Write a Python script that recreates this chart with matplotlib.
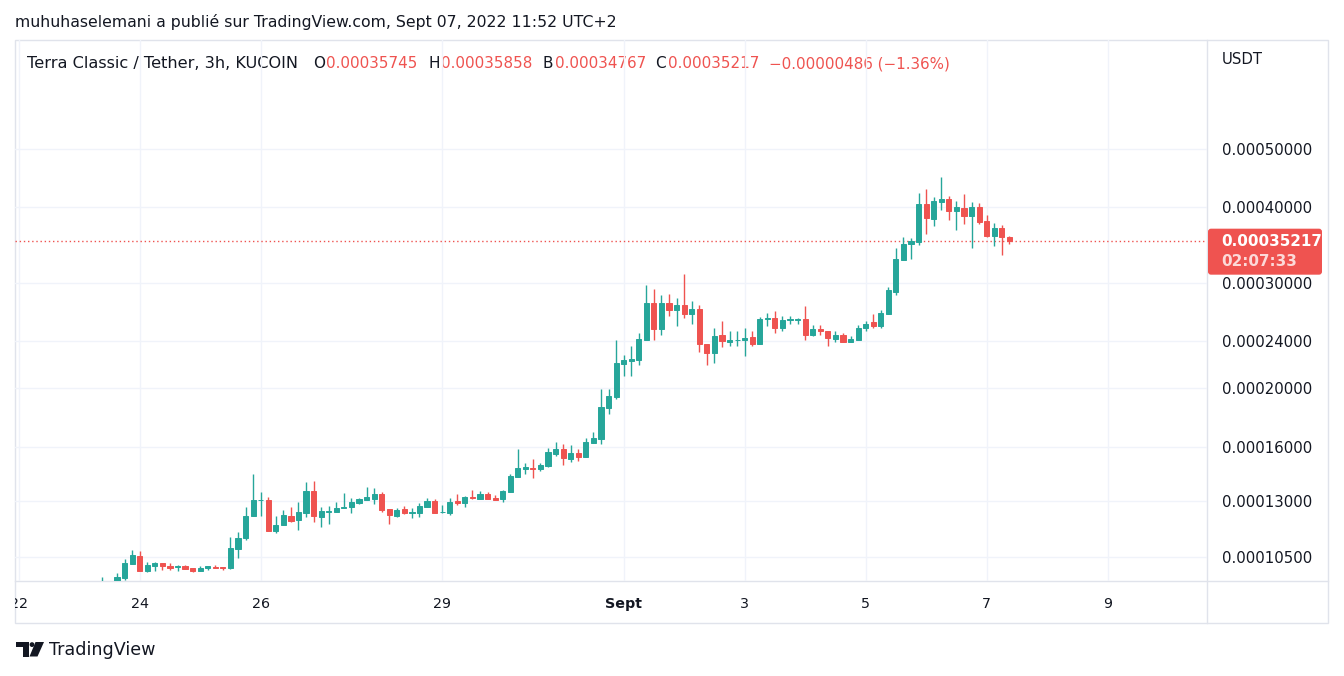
import numpy as np
import pandas as pd
import matplotlib
matplotlib.use("Agg")
import matplotlib.pyplot as plt
import matplotlib.dates as mdates
from matplotlib.patches import Rectangle, Polygon, Circle, FancyBboxPatch
from matplotlib.ticker import NullLocator, FixedLocator
from matplotlib.transforms import Bbox, TransformedBbox

# ---------------- data (LUNC/USDT 3h candles, KuCoin) ----------------
first_candle = "2022-08-23 09:00"   # UTC open time of first candle

opens = [0.925e-4, 0.950e-4, 0.945e-4, 0.967e-4, 1.022e-4, 1.052e-4, 0.995e-4, 1.014e-4, 1.025e-4, 1.014e-4,
         1.008e-4, 1.011e-4, 1.006e-4, 0.995e-4, 1.006e-4, 1.010e-4, 1.010e-4, 1.006e-4, 1.082e-4, 1.128e-4,
         1.228e-4, 1.302e-4, 1.305e-4, 1.159e-4, 1.186e-4, 1.228e-4, 1.209e-4, 1.242e-4, 1.351e-4, 1.223e-4,
         1.247e-4, 1.247e-4, 1.266e-4, 1.271e-4, 1.290e-4, 1.305e-4, 1.310e-4, 1.335e-4, 1.261e-4, 1.228e-4,
         1.261e-4, 1.242e-4, 1.242e-4, 1.271e-4, 1.300e-4, 1.245e-4, 1.242e-4, 1.300e-4, 1.290e-4, 1.320e-4,
         1.310e-4, 1.335e-4, 1.315e-4, 1.310e-4, 1.346e-4, 1.425e-4, 1.470e-4, 1.475e-4, 1.470e-4, 1.487e-4,
         1.557e-4, 1.587e-4, 1.528e-4, 1.563e-4, 1.540e-4, 1.624e-4, 1.649e-4, 1.857e-4, 1.938e-4, 2.199e-4,
         2.224e-4, 2.233e-4, 2.403e-4, 2.769e-4, 2.506e-4, 2.769e-4, 2.696e-4, 2.748e-4, 2.655e-4, 2.706e-4,
         2.375e-4, 2.286e-4, 2.449e-4, 2.385e-4, 2.403e-4, 2.403e-4, 2.431e-4, 2.366e-4, 2.612e-4, 2.614e-4,
         2.525e-4, 2.602e-4, 2.602e-4, 2.604e-4, 2.449e-4, 2.506e-4, 2.496e-4, 2.412e-4, 2.458e-4, 2.385e-4,
         2.403e-4, 2.516e-4, 2.574e-4, 2.535e-4, 2.655e-4, 2.889e-4, 3.265e-4, 3.473e-4, 3.500e-4, 4.049e-4,
         3.822e-4, 4.080e-4, 4.127e-4, 3.942e-4, 3.988e-4, 3.866e-4, 4.003e-4, 3.793e-4, 3.581e-4, 3.692e-4,
         3.5745e-4]
highs = [0.972e-4, 0.955e-4, 0.987e-4, 1.041e-4, 1.077e-4, 1.073e-4, 1.029e-4, 1.029e-4, 1.025e-4, 1.025e-4,
         1.017e-4, 1.017e-4, 1.006e-4, 1.014e-4, 1.014e-4, 1.017e-4, 1.010e-4, 1.132e-4, 1.154e-4, 1.271e-4,
         1.442e-4, 1.346e-4, 1.320e-4, 1.228e-4, 1.256e-4, 1.271e-4, 1.295e-4, 1.398e-4, 1.404e-4, 1.271e-4,
         1.276e-4, 1.295e-4, 1.341e-4, 1.315e-4, 1.315e-4, 1.372e-4, 1.366e-4, 1.346e-4, 1.261e-4, 1.266e-4,
         1.276e-4, 1.266e-4, 1.290e-4, 1.315e-4, 1.310e-4, 1.280e-4, 1.315e-4, 1.335e-4, 1.325e-4, 1.356e-4,
         1.351e-4, 1.346e-4, 1.330e-4, 1.356e-4, 1.442e-4, 1.587e-4, 1.505e-4, 1.528e-4, 1.505e-4, 1.593e-4,
         1.631e-4, 1.618e-4, 1.612e-4, 1.587e-4, 1.656e-4, 1.694e-4, 1.998e-4, 1.998e-4, 2.403e-4, 2.277e-4,
         2.348e-4, 2.468e-4, 2.967e-4, 2.922e-4, 2.856e-4, 2.867e-4, 2.823e-4, 3.095e-4, 2.791e-4, 2.748e-4,
         2.375e-4, 2.516e-4, 2.584e-4, 2.496e-4, 2.487e-4, 2.525e-4, 2.487e-4, 2.624e-4, 2.665e-4, 2.685e-4,
         2.634e-4, 2.634e-4, 2.614e-4, 2.737e-4, 2.545e-4, 2.545e-4, 2.496e-4, 2.487e-4, 2.468e-4, 2.440e-4,
         2.545e-4, 2.584e-4, 2.655e-4, 2.696e-4, 2.945e-4, 3.419e-4, 3.567e-4, 3.554e-4, 4.224e-4, 4.289e-4,
         4.159e-4, 4.490e-4, 4.175e-4, 4.096e-4, 4.207e-4, 4.080e-4, 4.064e-4, 3.881e-4, 3.764e-4, 3.735e-4,
         3.5858e-4]
lows = [0.915e-4, 0.930e-4, 0.940e-4, 0.961e-4, 1.022e-4, 0.992e-4, 0.988e-4, 0.992e-4, 0.999e-4, 0.999e-4,
        0.995e-4, 1.003e-4, 0.988e-4, 0.995e-4, 0.999e-4, 1.006e-4, 0.999e-4, 1.003e-4, 1.045e-4, 1.119e-4,
        1.228e-4, 1.228e-4, 1.159e-4, 1.150e-4, 1.186e-4, 1.200e-4, 1.163e-4, 1.223e-4, 1.200e-4, 1.177e-4,
        1.191e-4, 1.247e-4, 1.266e-4, 1.242e-4, 1.285e-4, 1.305e-4, 1.285e-4, 1.247e-4, 1.191e-4, 1.223e-4,
        1.237e-4, 1.218e-4, 1.223e-4, 1.271e-4, 1.242e-4, 1.242e-4, 1.233e-4, 1.280e-4, 1.271e-4, 1.310e-4,
        1.310e-4, 1.310e-4, 1.305e-4, 1.295e-4, 1.346e-4, 1.425e-4, 1.442e-4, 1.420e-4, 1.458e-4, 1.481e-4,
        1.545e-4, 1.493e-4, 1.510e-4, 1.516e-4, 1.540e-4, 1.624e-4, 1.618e-4, 1.815e-4, 1.923e-4, 2.100e-4,
        2.100e-4, 2.191e-4, 2.403e-4, 2.403e-4, 2.458e-4, 2.634e-4, 2.535e-4, 2.614e-4, 2.555e-4, 2.295e-4,
        2.191e-4, 2.208e-4, 2.339e-4, 2.348e-4, 2.348e-4, 2.260e-4, 2.348e-4, 2.366e-4, 2.535e-4, 2.477e-4,
        2.487e-4, 2.555e-4, 2.555e-4, 2.403e-4, 2.440e-4, 2.458e-4, 2.348e-4, 2.385e-4, 2.385e-4, 2.385e-4,
        2.403e-4, 2.487e-4, 2.516e-4, 2.525e-4, 2.655e-4, 2.856e-4, 3.265e-4, 3.278e-4, 3.460e-4, 3.609e-4,
        3.721e-4, 3.957e-4, 3.807e-4, 3.664e-4, 3.749e-4, 3.419e-4, 3.749e-4, 3.567e-4, 3.446e-4, 3.329e-4,
        3.4767e-4]
closes = [0.950e-4, 0.940e-4, 0.971e-4, 1.025e-4, 1.057e-4, 0.992e-4, 1.017e-4, 1.024e-4, 1.011e-4, 1.006e-4,
          1.011e-4, 1.003e-4, 0.992e-4, 1.006e-4, 1.011e-4, 1.006e-4, 1.006e-4, 1.085e-4, 1.128e-4, 1.228e-4,
          1.305e-4, 1.305e-4, 1.159e-4, 1.186e-4, 1.233e-4, 1.204e-4, 1.247e-4, 1.351e-4, 1.228e-4, 1.251e-4,
          1.251e-4, 1.266e-4, 1.271e-4, 1.295e-4, 1.310e-4, 1.320e-4, 1.335e-4, 1.256e-4, 1.233e-4, 1.256e-4,
          1.242e-4, 1.247e-4, 1.276e-4, 1.300e-4, 1.242e-4, 1.247e-4, 1.295e-4, 1.290e-4, 1.320e-4, 1.315e-4,
          1.335e-4, 1.310e-4, 1.305e-4, 1.351e-4, 1.431e-4, 1.475e-4, 1.481e-4, 1.470e-4, 1.493e-4, 1.569e-4,
          1.587e-4, 1.534e-4, 1.563e-4, 1.540e-4, 1.631e-4, 1.656e-4, 1.864e-4, 1.946e-4, 2.208e-4, 2.233e-4,
          2.242e-4, 2.412e-4, 2.769e-4, 2.506e-4, 2.769e-4, 2.696e-4, 2.748e-4, 2.655e-4, 2.706e-4, 2.366e-4,
          2.286e-4, 2.440e-4, 2.394e-4, 2.403e-4, 2.406e-4, 2.421e-4, 2.366e-4, 2.604e-4, 2.618e-4, 2.525e-4,
          2.594e-4, 2.606e-4, 2.606e-4, 2.449e-4, 2.506e-4, 2.487e-4, 2.421e-4, 2.458e-4, 2.385e-4, 2.412e-4,
          2.525e-4, 2.564e-4, 2.535e-4, 2.665e-4, 2.911e-4, 3.278e-4, 3.473e-4, 3.513e-4, 4.049e-4, 3.837e-4,
          4.096e-4, 4.127e-4, 3.942e-4, 4.003e-4, 3.866e-4, 4.003e-4, 3.778e-4, 3.581e-4, 3.692e-4, 3.5745e-4,
          3.5217e-4]

price_ticks = [0.000105, 0.00013, 0.00016, 0.0002, 0.00024, 0.0003, 0.0004, 0.0005]
date_ticks = ["2022-08-22", "2022-08-24", "2022-08-26", "2022-08-29", "2022-09-01",
              "2022-09-03", "2022-09-05", "2022-09-07", "2022-09-09"]
date_labels = ["22", "24", "26", "29", "Sept", "3", "5", "7", "9"]

header = "muhuhaselemani a publié sur TradingView.com, Sept 07, 2022 11:52 UTC+2"
symbol = "Terra Classic / Tether, 3h, KUCOIN"
ohlc_keys = ["O", "H", "B", "C"]
ohlc_vals = ["0.00035745", "0.00035858", "0.00034767", "0.00035217"]
change_txt = "\u22120.00000486 (\u22121.36%)"
last_price_txt = "0.00035217"
countdown_txt = "02:07:33"

# ---------------- style ----------------
GREEN = "#26a69a"
RED = "#ef5350"
TXT = "#131722"
GRID = "#f0f3fa"
BORDER = "#e0e3eb"
plt.rcParams["font.family"] = ["DejaVu Sans"]

W, H = 1344, 676
fig = plt.figure(figsize=(W / 100, H / 100), dpi=100)
fig.patch.set_facecolor("white")

# pixel overlay for frame / decorations
bg = fig.add_axes([0, 0, 1, 1], zorder=0)
bg.set_xlim(0, W)
bg.set_ylim(H, 0)
bg.axis("off")
bg.patch.set_alpha(0)

L, R, T, B = 15, 1207, 40, 581
ax = fig.add_axes([L / W, (H - B) / H, (R - L) / W, (B - T) / H], zorder=2)
ax.patch.set_alpha(0)

o = np.array(opens); hi = np.array(highs); lo = np.array(lows); c = np.array(closes)
times = pd.date_range(first_candle, periods=len(o), freq="3h")
x = mdates.date2num(times)
step = 3 / 24
cols = np.where(c >= o, GREEN, RED)

ax.set_yscale("log")
ax.vlines(x, lo, hi, colors=cols, linewidth=1, zorder=3)
ax.bar(x, np.abs(c - o), bottom=np.minimum(o, c), width=step * 0.68,
       color=cols, edgecolor=cols, linewidth=0.7, zorder=4)

ax.set_ylim(0.9561e-4, 7.597e-4)
x1 = mdates.date2num(pd.Timestamp("2022-08-23 15:00"))
ax.set_xlim(x1 - 13.49 * step, x1 + 144.14 * step)

# grid + ticks
ax.yaxis.set_major_locator(FixedLocator(price_ticks))
ax.yaxis.set_minor_locator(NullLocator())
ax.set_yticklabels([f"{v:.8f}" for v in price_ticks])
ax.yaxis.tick_right()
ax.tick_params(axis="y", length=0, pad=10.8, labelsize=10.7, labelcolor=TXT)
dnum = mdates.date2num(pd.to_datetime(date_ticks))
ax.set_xticks(dnum)
ax.xaxis.set_minor_locator(NullLocator())
ax.tick_params(axis="x", length=0, labelbottom=False)
ax.grid(True, color=GRID, linewidth=1, zorder=0)
ax.set_axisbelow(True)
for s in ax.spines.values():
    s.set_visible(False)

# x labels (clipped to the time-axis panel)
clipbox = TransformedBbox(Bbox([[0, -0.2], [1, 1]]), ax.transAxes)
for d, lab in zip(dnum, date_labels):
    t = ax.text(d, -0.0425, lab, transform=ax.get_xaxis_transform(), ha="center", va="center",
                fontsize=10.3, color=TXT, fontweight="bold" if lab == "Sept" else "normal")
    t.set_clip_box(clipbox)
    t.set_clip_on(True)

# last price dotted line
last = c[-1]
ax.axhline(last, color=RED, linestyle=(0, (1, 2)), linewidth=1, zorder=2)

# frame
bg.add_patch(Rectangle((15, 40), 1313, 583, fill=False, edgecolor=BORDER, linewidth=1))
bg.plot([1207, 1207], [40, 623], color=BORDER, linewidth=1)
bg.plot([15, 1328], [581, 581], color=BORDER, linewidth=1)

# header & legend
bg.text(15, 22, header, fontsize=11.3, color=TXT, va="center", ha="left")
bg.text(27, 64, symbol, fontsize=11.6, color=TXT, va="center", ha="left")
for kx, vx, k, v in zip([313, 428, 542, 655], [326, 441, 555, 668], ohlc_keys, ohlc_vals):
    bg.text(kx, 64, k, fontsize=11.0, color=TXT, va="center", ha="left")
    bg.text(vx, 64, v, fontsize=10.9, color=RED, va="center", ha="left")
bg.text(769, 64, change_txt, fontsize=10.9, color=RED, va="center", ha="left")

# price axis unit
bg.text(1222, 60, "USDT", fontsize=10.7, color=TXT, va="center", ha="left")

# last price label box
fig.canvas.draw()
ypix = H - ax.transData.transform((x[-1], last))[1]
bg.add_patch(FancyBboxPatch((1208, ypix - 12), 114, 46, boxstyle="round,pad=0,rounding_size=3",
                            facecolor=RED, edgecolor="none", zorder=5))
bg.text(1221, ypix + 0.5, last_price_txt, fontsize=10.9, color="white", fontweight="bold",
        va="center", ha="left", zorder=6)
bg.text(1221, ypix + 21, countdown_txt, fontsize=10.9, color="#fcd9d8", fontweight="bold",
        va="center", ha="left", zorder=6)

# TradingView logo
bg.add_patch(Polygon([[16, 642], [29, 642], [29, 656.5], [22.5, 656.5], [22.5, 647], [16, 647]],
                     closed=True, facecolor=TXT, edgecolor="none"))
bg.add_patch(Circle((32, 644.6), 2.4, facecolor=TXT, edgecolor="none"))
bg.add_patch(Polygon([[35.5, 642], [44, 642], [37.5, 656.5], [29.5, 656.5]],
                     closed=True, facecolor=TXT, edgecolor="none"))
bg.text(49, 650, "TradingView", fontsize=12.6, color=TXT, va="center", ha="left")

fig.savefig("out.png", dpi=100, facecolor="white")
